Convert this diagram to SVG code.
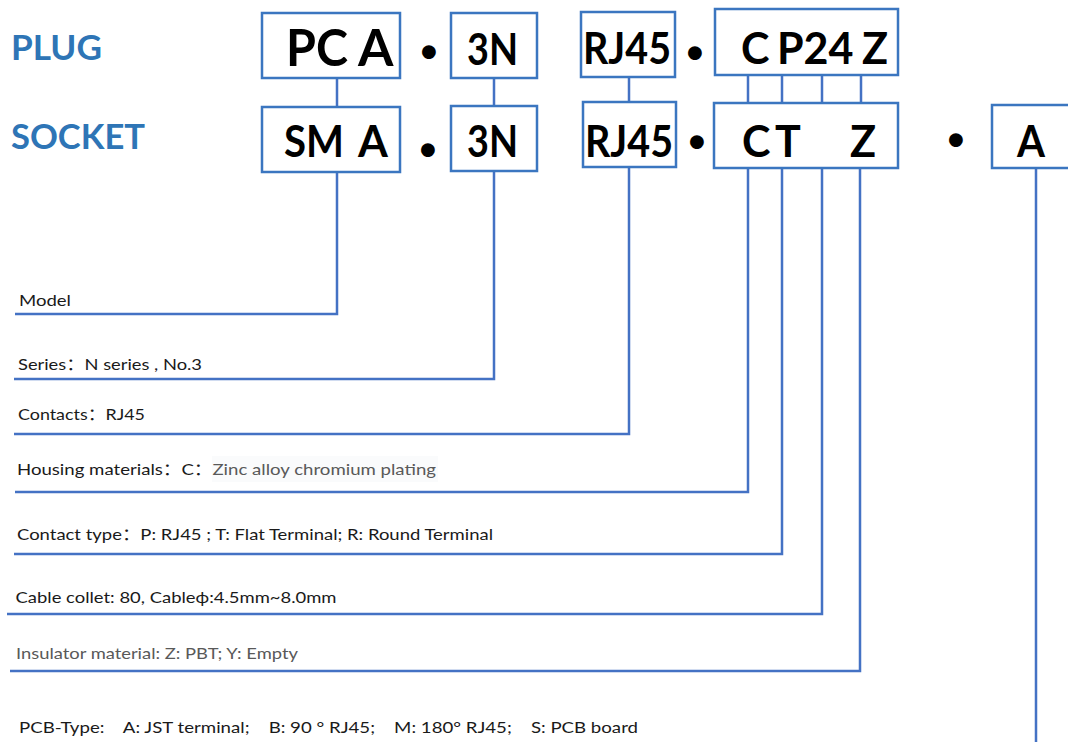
<svg xmlns="http://www.w3.org/2000/svg" width="1068" height="742" viewBox="0 0 1068 742">
<style>
.box{fill:#fff;stroke:#3B76C0;stroke-width:2.5}
.code{font-family:Lato,"Liberation Sans",sans-serif;font-weight:bold;fill:#000}
.title{font-family:Lato,"Liberation Sans",sans-serif;font-weight:bold;fill:#2E75B6;font-size:35px}
.dot{font-family:"Liberation Sans",sans-serif;font-weight:bold;font-size:48px;fill:#000;text-anchor:middle}
.lbl{font-family:Lato,"Liberation Sans","Noto Sans CJK SC",sans-serif;font-size:16px;fill:#1a1a1a;white-space:pre}
.grey{fill:#595959}
.conn{fill:none;stroke:#4472C4;stroke-width:2.5}
</style>
<rect width="1068" height="742" fill="#fff"/>
<g id="titles">
<text class="title" x="11" y="60" textLength="91" lengthAdjust="spacingAndGlyphs">PLUG</text>
<text class="title" x="11" y="149" textLength="134" lengthAdjust="spacingAndGlyphs">SOCKET</text>
</g>
<g id="connectors">
<path class="conn" d="M337 78V107M494 78V106M629 77V102M748 75V103M782 75V103M822 75V103M861 75V103"/>
<path class="conn" d="M337 172V314H15M494 171V379H14M629 167V434H14M748 168V492H15M782 168V554H14M822 168V614H7M860 168V671H10M1036 168V742"/>
</g>
<g id="plug-model"><rect class="box" x="262" y="13" width="138" height="65"/><text class="code" y="66" font-size="51"><tspan x="286" textLength="62" lengthAdjust="spacingAndGlyphs">PC</tspan> <tspan x="358">A</tspan></text></g>
<g id="plug-series"><rect class="box" x="451" y="13" width="86" height="65"/><text class="code" x="467" y="65" font-size="44" textLength="51" lengthAdjust="spacingAndGlyphs">3N</text></g>
<g id="plug-contacts"><rect class="box" x="581" y="12" width="94" height="65"/><text class="code" x="583" y="64" font-size="43" textLength="88" lengthAdjust="spacingAndGlyphs">RJ45</text></g>
<g id="plug-type"><rect class="box" x="715" y="9" width="183" height="66"/><text class="code" y="64" font-size="43"><tspan x="741">C</tspan><tspan x="777">P24</tspan><tspan x="862">Z</tspan></text></g>
<g id="socket-model"><rect class="box" x="262" y="107" width="138" height="65"/><text class="code" y="157" font-size="43"><tspan x="284" textLength="60" lengthAdjust="spacingAndGlyphs">SM</tspan> <tspan x="358">A</tspan></text></g>
<g id="socket-series"><rect class="box" x="451" y="106" width="86" height="65"/><text class="code" x="467" y="157" font-size="43" textLength="51" lengthAdjust="spacingAndGlyphs">3N</text></g>
<g id="socket-contacts"><rect class="box" x="583" y="102" width="93" height="65"/><text class="code" x="585" y="157" font-size="43" textLength="88" lengthAdjust="spacingAndGlyphs">RJ45</text></g>
<g id="socket-type"><rect class="box" x="714" y="103" width="184" height="65"/><text class="code" y="157" font-size="43"><tspan x="742">C</tspan><tspan x="775">T</tspan><tspan x="850">Z</tspan></text></g>
<g id="socket-pcb"><rect class="box" x="992" y="105" width="90" height="63"/><text class="code" x="1017" y="157" font-size="43" textLength="28" lengthAdjust="spacingAndGlyphs">A</text></g>
<g id="dots">
<text class="dot" x="429" y="68">•</text>
<text class="dot" x="695" y="69">•</text>
<text class="dot" x="428" y="166">•</text>
<text class="dot" x="697" y="158">•</text>
<text class="dot" x="956" y="156">•</text>
</g>
<g id="labels">
<text class="lbl" x="19" y="306" textLength="52" lengthAdjust="spacingAndGlyphs">Model</text>
<text class="lbl" x="18" y="370" textLength="184" lengthAdjust="spacingAndGlyphs">Series：N series , No.3</text>
<text class="lbl" x="18" y="420" textLength="127" lengthAdjust="spacingAndGlyphs">Contacts：RJ45</text>
<rect x="212" y="456" width="226" height="26" fill="#FAFBFC"/>
<text class="lbl" x="17" y="475" textLength="419" lengthAdjust="spacingAndGlyphs">Housing materials：C：<tspan class="grey">Zinc alloy chromium plating</tspan></text>
<text class="lbl" x="17" y="540" textLength="476" lengthAdjust="spacingAndGlyphs">Contact type：P: RJ45 ; T: Flat Terminal; R: Round Terminal</text>
<text class="lbl" x="15.5" y="603" textLength="321" lengthAdjust="spacingAndGlyphs">Cable collet: 80, Cableϕ:4.5mm~8.0mm</text>
<text class="lbl grey" x="16" y="659" textLength="282" lengthAdjust="spacingAndGlyphs">Insulator material: Z: PBT; Y: Empty</text>
<text class="lbl" x="19" y="733" textLength="619" lengthAdjust="spacingAndGlyphs">PCB-Type:    A: JST terminal;    B: 90 ° RJ45;    M: 180° RJ45;    S: PCB board</text>
</g>
</svg>
